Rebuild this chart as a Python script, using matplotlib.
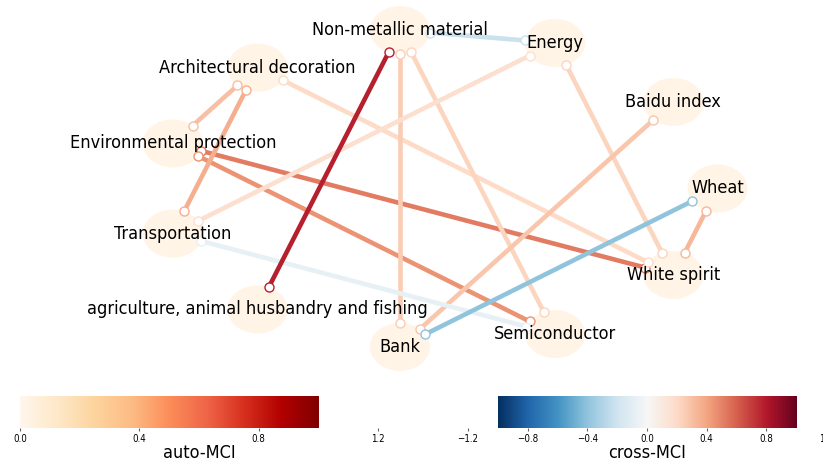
import numpy as np
import matplotlib
matplotlib.use("Agg")
import matplotlib.pyplot as plt
from matplotlib.patches import Ellipse
from matplotlib.colors import Normalize

# Variables, in circular order starting at 0 degrees (counter-clockwise)
var_names = [
    "Wheat",
    "Baidu index",
    "Energy",
    "Non-metallic material",
    "Architectural decoration",
    "Environmental protection",
    "Transportation",
    "agriculture, animal husbandry and fishing",
    "Bank",
    "Semiconductor",
    "White spirit",
]
auto_mci = [0.025, 0.025, 0.025, 0.025, 0.025, 0.025, 0.025, 0.025, 0.025, 0.025, 0.025]

# Contemporaneous links (o-o) and their cross-MCI values
link_src = [
    "Environmental protection",
    "Environmental protection",
    "Architectural decoration",
    "Architectural decoration",
    "Architectural decoration",
    "Non-metallic material",
    "Non-metallic material",
    "Energy",
    "Energy",
    "Baidu index",
    "Wheat",
    "Transportation",
    "Non-metallic material",
    "Wheat",
    "Non-metallic material",
]
link_dst = [
    "White spirit",
    "Semiconductor",
    "Environmental protection",
    "Transportation",
    "White spirit",
    "Bank",
    "Semiconductor",
    "Transportation",
    "White spirit",
    "Bank",
    "White spirit",
    "Semiconductor",
    "Energy",
    "Bank",
    "agriculture, animal husbandry and fishing",
]
cross_mci = [0.52, 0.45, 0.30, 0.36, 0.20, 0.25, 0.22, 0.17, 0.22, 0.28, 0.33, -0.08, -0.22, -0.40, 0.78]

auto_ticks = [0.0, 0.4, 0.8, 1.2]
cross_ticks = [-1.2, -0.8, -0.4, 0.0, 0.4, 0.8, 1.2]

FONT = dict(family="DejaVu Sans", fontstretch="condensed")

W, H, DPI = 823, 465, 100
fig = plt.figure(figsize=(W / DPI, H / DPI), dpi=DPI)

# Graph axes: unit circle layout, stretched to the figure
ax = fig.add_axes([0, 0, 1, 1])
ax.set_xlim(-1.581, 1.3795)
ax.set_ylim(-1.728, 1.178)
ax.axis("off")

edge_cmap = plt.get_cmap("RdBu_r")
edge_norm = Normalize(-1, 1)
node_cmap = plt.get_cmap("OrRd")
node_norm = Normalize(0, 1)

n = len(var_names)
angles = 2 * np.pi * np.arange(n) / n
pos = {name: (np.cos(a), np.sin(a)) for name, a in zip(var_names, angles)}

# pixels per data unit
p0 = ax.transData.transform((0, 0))
sx = ax.transData.transform((1, 0))[0] - p0[0]
sy = ax.transData.transform((0, 1))[1] - p0[1]

# node half-axes in pixels
na, nb = 30.0, 24.0


def edge_point(a, b):
    # point on the node ellipse of a, facing node b
    dx = (pos[b][0] - pos[a][0]) * sx
    dy = (pos[b][1] - pos[a][1]) * sy
    d = np.hypot(dx, dy)
    ux, uy = dx / d, dy / d
    t = 1.0 / np.sqrt((ux / na) ** 2 + (uy / nb) ** 2)
    return pos[a][0] + ux * t / sx, pos[a][1] + uy * t / sy


# Nodes
for name, val in zip(var_names, auto_mci):
    x, y = pos[name]
    ax.add_patch(Ellipse((x, y), 2 * na / sx, 2 * nb / sy,
                         facecolor=node_cmap(node_norm(val)), edgecolor="none", zorder=1))

# Links
for s, d, v in zip(link_src, link_dst, cross_mci):
    c = edge_cmap(edge_norm(v))
    x0, y0 = edge_point(s, d)
    x1, y1 = edge_point(d, s)
    ax.plot([x0, x1], [y0, y1], color=c, lw=3.3, solid_capstyle="butt", zorder=2)
    ax.plot([x0, x1], [y0, y1], "o", ms=6.5, mfc="white", mec=c, mew=1.0, zorder=3)

# Labels
for name in var_names:
    x, y = pos[name]
    ax.text(x, y, name, ha="center", va="center", fontsize=13, color="black", zorder=5, **FONT)


# Colour bars
def colour_bar(rect, cmap, lo, hi, xlim, ticks, label):
    cax = fig.add_axes(rect)
    grad = np.linspace(lo, hi, 256)[None, :]
    cax.imshow(grad, cmap=cmap, vmin=lo, vmax=hi, extent=(lo, hi, 0, 1), aspect="auto")
    cax.set_xlim(*xlim)
    cax.set_ylim(0, 1)
    for sp in cax.spines.values():
        sp.set_visible(False)
    cax.set_yticks([])
    cax.set_xticks(ticks)
    cax.set_xticklabels([f"{t:.1f}".replace("-", "\u2212") for t in ticks], fontsize=7, **FONT)
    cax.tick_params(axis="x", length=2.5, width=0.8, color="#666666", pad=2)
    cax.set_xlabel(label, fontsize=13, labelpad=0, **FONT)


colour_bar([20 / W, 37 / H, 358 / W, 32 / H], "OrRd", 0, 1, (0, 1.2), auto_ticks, "auto-MCI")
colour_bar([468 / W, 37 / H, 358 / W, 32 / H], "RdBu_r", -1, 1, (-1.2, 1.2), cross_ticks, "cross-MCI")

fig.savefig("out.png", dpi=DPI)
